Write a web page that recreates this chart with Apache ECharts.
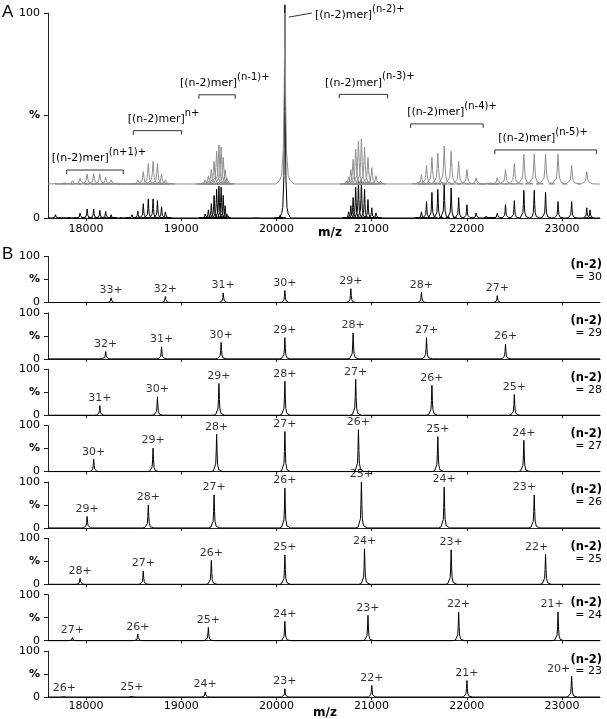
<!DOCTYPE html>
<html>
<head>
<meta charset="utf-8">
<script src="https://cdn.jsdelivr.net/npm/echarts@6/dist/echarts.min.js"></script>
<style>
  html, body { margin: 0; padding: 0; background: #fff; }
  #chart { width: 607px; height: 719px; }
</style>
</head>
<body>
<div id="chart"></div>
<script>
// m/z axis
const xMin = 17600
const xMax = 23400
const mzTicks = [18000, 19000, 20000, 21000, 22000, 23000]

// panel A, measured spectrum (black)
const expMz = [17678, 17771, 17857, 17937, 18011, 18080, 18145, 18206, 18263, 18317,
  18415, 18482, 18544, 18601, 18654, 18704, 18750, 18793, 18834, 18871,
  19216, 19252, 19285, 19316, 19345, 19372, 19396, 19419, 19441, 19461, 19480,
  19790, 20010, 20040, 20089,
  20737, 20759, 20782, 20806, 20833, 20862, 20893, 20926, 20962, 21002, 21046, 21093,
  21474, 21524, 21577, 21634, 21696, 21763, 21836, 21915, 22002, 22098, 22204,
  22241, 22321, 22407, 22500, 22600, 22709, 22828, 22959, 23102, 23261, 23295]
const expInt = [1.6, 1.0, 0.8, 2.4, 4.4, 4.4, 3.7, 3.2, 1.6, 0.6,
  0.8, 1.6, 3.3, 7, 9.3, 9.3, 8.5, 5.5, 3, 1,
  1, 2, 4, 7, 11, 14, 15.5, 15, 11, 6, 2,
  0.6, 1, 1.5, 104,
  1, 3, 6, 10, 15, 18, 19, 14, 9, 5, 2.5, 1,
  1, 3, 8, 12.5, 14, 17, 14.6, 10, 6.5, 2.4, 0.8,
  0.8, 2.4, 6.5, 8.5, 13.5, 13.5, 12.5, 8, 8, 5, 4]

// panel A, simulated spectrum (grey), drawn above an offset baseline
const simOffset = 16.6
const simMz = [17678, 17771, 17857, 17937, 18011, 18080, 18145, 18206, 18263, 18317,
  18415, 18482, 18544, 18601, 18654, 18704, 18750, 18793, 18834, 18871,
  19216, 19252, 19285, 19316, 19345, 19372, 19396, 19419, 19441, 19461, 19480,
  20089,
  20737, 20759, 20782, 20806, 20833, 20862, 20893, 20926, 20962, 21002, 21046, 21093,
  21474, 21524, 21577, 21634, 21696, 21763, 21836, 21915, 22002, 22098, 22204,
  22241, 22321, 22407, 22500, 22600, 22709, 22828, 22959, 23102, 23261]
const simInt = [0.5, 1.1, 1.6, 2.8, 4.9, 5, 4.9, 3.3, 2, 0.8,
  0.3, 0.7, 2, 6, 10, 11, 10, 5, 2, 0.7,
  0.8, 2, 4, 7, 11, 16, 19, 18, 13, 7, 3,
  83.4,
  1.5, 3.5, 7, 12, 17, 21, 22, 18, 13, 8, 4, 1.5,
  1, 4.4, 9, 13, 15, 18.5, 16, 11, 7, 3, 0.8,
  1, 3, 7, 10, 14.5, 14.6, 14.5, 14.5, 9, 6]

// panel B, one row per (n-2)
const rowN = [30, 29, 28, 27, 26, 25, 24, 23]
const rowCharges = [
  [33, 32, 31, 30, 29, 28, 27],
  [32, 31, 30, 29, 28, 27, 26],
  [31, 30, 29, 28, 27, 26, 25],
  [30, 29, 28, 27, 26, 25, 24],
  [29, 28, 27, 26, 25, 24, 23],
  [28, 27, 26, 25, 24, 23, 22],
  [27, 26, 25, 24, 23, 22, 21],
  [26, 25, 24, 23, 22, 21, 20]
]
const rowMz = [
  [18263, 18834, 19441, 20089, 20782, 21524, 22321],
  [18206, 18793, 19419, 20089, 20806, 21577, 22407],
  [18145, 18750, 19396, 20089, 20833, 21634, 22500],
  [18080, 18704, 19372, 20089, 20862, 21696, 22600],
  [18011, 18654, 19345, 20089, 20893, 21763, 22709],
  [17937, 18601, 19316, 20089, 20926, 21836, 22828],
  [17857, 18544, 19285, 20089, 20962, 21915, 22959],
  [17771, 18482, 19252, 20089, 21002, 22002, 23102]
]
const rowInt = [
  [10, 13, 21, 26, 30, 22, 15],
  [16, 26, 36, 46, 56, 46, 32],
  [21, 40, 69, 74, 78, 65, 45],
  [27, 51, 81, 87, 91, 76, 68],
  [25, 50, 72, 87, 100, 89, 72],
  [13, 29, 52, 64, 77, 75, 65],
  [7, 14, 29, 42, 55, 62, 62],
  [4, 5, 11, 18, 25, 36, 45]
]

const font = 'DejaVu Sans'
const axisColor = '#222'
const rowTop = k => 256.5 + 56.36 * k
const rowHeight = 46
// label nudge for the right-most peak label of each row (px)
const lastLabelShift = [0, 0, 0, 0, -10, -9, -6, -13]

// peak profile (lorentz-like): level of the peak height at offset * half width
const profLevel = [0.02, 0.05, 0.2, 0.5, 1, 0.5, 0.2, 0.05, 0.02]
const profOffset = [-7, -4.4, -2, -1, 0, 1, 2, 4.4, 7]

function trace(mz, ints, base, hw) {
  const pts = [[xMin, base]]
  mz.forEach((m, i) => {
    pts.push([m - 12 * hw, base])
    profLevel.forEach((lv, j) => pts.push([m + profOffset[j] * hw, base + ints[i] * lv]))
    pts.push([m + 12 * hw, base])
  })
  pts.push([xMax, base])
  return pts
}

function makeX(gridIndex, showLabels, margin) {
  return {
    type: 'value', gridIndex: gridIndex, min: xMin, max: xMax,
    axisLine: { show: true, onZero: false, lineStyle: { color: axisColor, width: 1 } },
    axisTick: { show: true, customValues: mzTicks, length: 3, lineStyle: { color: axisColor } },
    axisLabel: {
      show: showLabels, customValues: mzTicks, color: '#000', fontSize: 11, fontFamily: font, margin: margin,
      formatter: v => String(v)
    },
    splitLine: { show: false }
  }
}

function makeY(gridIndex) {
  return {
    type: 'value', gridIndex: gridIndex, min: 0, max: 100, interval: 50,
    axisLine: { show: true, onZero: false, lineStyle: { color: axisColor, width: 1 } },
    axisTick: { show: true, length: 4, lineStyle: { color: axisColor } },
    axisLabel: {
      color: '#000', fontSize: 11, fontFamily: font, margin: 8,
      formatter: v => v === 50 ? '{p|%}' : String(v),
      rich: { p: { fontWeight: 'bold', fontSize: 11, fontFamily: font } }
    },
    splitLine: { show: false }
  }
}

const grids = [{ left: 48, right: 7, top: 13, height: 205 }]
const xAxes = [makeX(0, true, 6)]
const yAxes = [makeY(0)]
const series = [
  {
    type: 'line', xAxisIndex: 0, yAxisIndex: 0, data: trace(expMz, expInt, 0, 5),
    showSymbol: false, clip: false, silent: true, animation: false,
    lineStyle: { color: '#000', width: 1 }
  },
  {
    type: 'line', xAxisIndex: 0, yAxisIndex: 0, data: trace(simMz, simInt, simOffset, 8),
    showSymbol: false, clip: false, silent: true, animation: false,
    lineStyle: { color: '#8e8e8e', width: 1 }
  }
]

rowN.forEach((n, k) => {
  const idx = k + 1
  grids.push({ left: 48, right: 7, top: rowTop(k), height: rowHeight })
  xAxes.push(makeX(idx, k === rowN.length - 1, 4))
  yAxes.push(makeY(idx))
  series.push({
    type: 'line', xAxisIndex: idx, yAxisIndex: idx, data: trace(rowMz[k], rowInt[k], 0, 5),
    showSymbol: false, clip: false, silent: true, animation: false,
    lineStyle: { color: '#000', width: 1 }
  })
  series.push({
    type: 'scatter', xAxisIndex: idx, yAxisIndex: idx, symbolSize: 0, silent: true, animation: false,
    data: rowMz[k].map((m, i) => {
      const item = { value: [m, rowInt[k][i]] }
      if (i === rowMz[k].length - 1 && lastLabelShift[k]) item.label = { offset: [lastLabelShift[k], 0] }
      return item
    }),
    label: {
      show: true, position: 'top', distance: 2, color: '#000', fontSize: 11, fontFamily: font,
      formatter: p => rowCharges[k][p.dataIndex] + '+'
    }
  })
})

const chart = echarts.init(document.getElementById('chart'))
chart.setOption({
  animation: false,
  grid: grids,
  xAxis: xAxes,
  yAxis: yAxes,
  series: series
})

// bracket annotations of panel A (m/z span, height in %)
const brackets = [
  { sup: '(n+1)+', x1: 17796, x2: 18391, y: 23.4, tx: 17639 },
  { sup: 'n+', x1: 18496, x2: 19004, y: 42.6, tx: 18437 },
  { sup: '(n-1)+', x1: 19186, x2: 19567, y: 60.1, tx: 18987 },
  { sup: '(n-3)+', x1: 20660, x2: 21168, y: 60.3, tx: 20510 },
  { sup: '(n-4)+', x1: 21410, x2: 22173, y: 45.9, tx: 21374 },
  { sup: '(n-5)+', x1: 22295, x2: 23364, y: 33.2, tx: 22330 }
]
const richStyle = {
  a: { fontSize: 11, fontFamily: font, lineHeight: 22, fill: '#000', color: '#000' },
  s: { fontSize: 10, fontFamily: font, lineHeight: 12, verticalAlign: 'top', fill: '#000', color: '#000' }
}
const toPx = p => chart.convertToPixel({ gridIndex: 0 }, p)

const graphics = []
function supText(x, y, sup) {
  graphics.push({
    type: 'text', silent: true,
    style: { text: '{a|[(n-2)mer]}{s|' + sup + '}', x: x, y: y, align: 'left', verticalAlign: 'middle', rich: richStyle }
  })
}
brackets.forEach(b => {
  const p1 = toPx([b.x1, b.y])
  const p2 = toPx([b.x2, b.y])
  const t = toPx([b.tx, b.y])
  graphics.push({
    type: 'polyline', silent: true,
    shape: { points: [[p1[0], p1[1] + 4], [p1[0], p1[1]], [p2[0], p1[1]], [p2[0], p1[1] + 4]] },
    style: { stroke: '#333', lineWidth: 1, fill: null }
  })
  supText(t[0], p1[1] - 11.6, b.sup)
})
// leader line to the main peak
const l1 = toPx([20132, 98])
const l2 = toPx([20373, 100])
graphics.push({
  type: 'line', silent: true,
  shape: { x1: l1[0], y1: l1[1], x2: l2[0], y2: l2[1] },
  style: { stroke: '#333', lineWidth: 1 }
})
const lt = toPx([20405, 99])
supText(lt[0], lt[1], '(n-2)+')

// panel letters and axis titles
graphics.push({ type: 'text', silent: true, style: { text: 'A', x: 2, y: 12, verticalAlign: 'middle', font: '17px "Liberation Sans"', fill: '#000' } })
graphics.push({ type: 'text', silent: true, style: { text: 'B', x: 2, y: 254, verticalAlign: 'middle', font: '17px "Liberation Sans"', fill: '#000' } })
graphics.push({ type: 'text', silent: true, style: { text: 'm/z', x: 330, y: 233, align: 'center', verticalAlign: 'middle', font: 'bold 12px "DejaVu Sans"', fill: '#000' } })
graphics.push({ type: 'text', silent: true, style: { text: 'm/z', x: 325, y: 713, align: 'center', verticalAlign: 'middle', font: 'bold 12px "DejaVu Sans"', fill: '#000' } })

rowN.forEach((n, k) => {
  graphics.push({ type: 'text', silent: true, style: { text: '(n-2)', x: 602, y: rowTop(k) + 8.5, align: 'right', verticalAlign: 'middle', font: 'bold 11.5px "DejaVu Sans"', fill: '#000' } })
  graphics.push({ type: 'text', silent: true, style: { text: '= ' + n, x: 602, y: rowTop(k) + 20.5, align: 'right', verticalAlign: 'middle', font: '11px "DejaVu Sans"', fill: '#000' } })
})

chart.setOption({ graphic: graphics })
</script>
</body>
</html>
